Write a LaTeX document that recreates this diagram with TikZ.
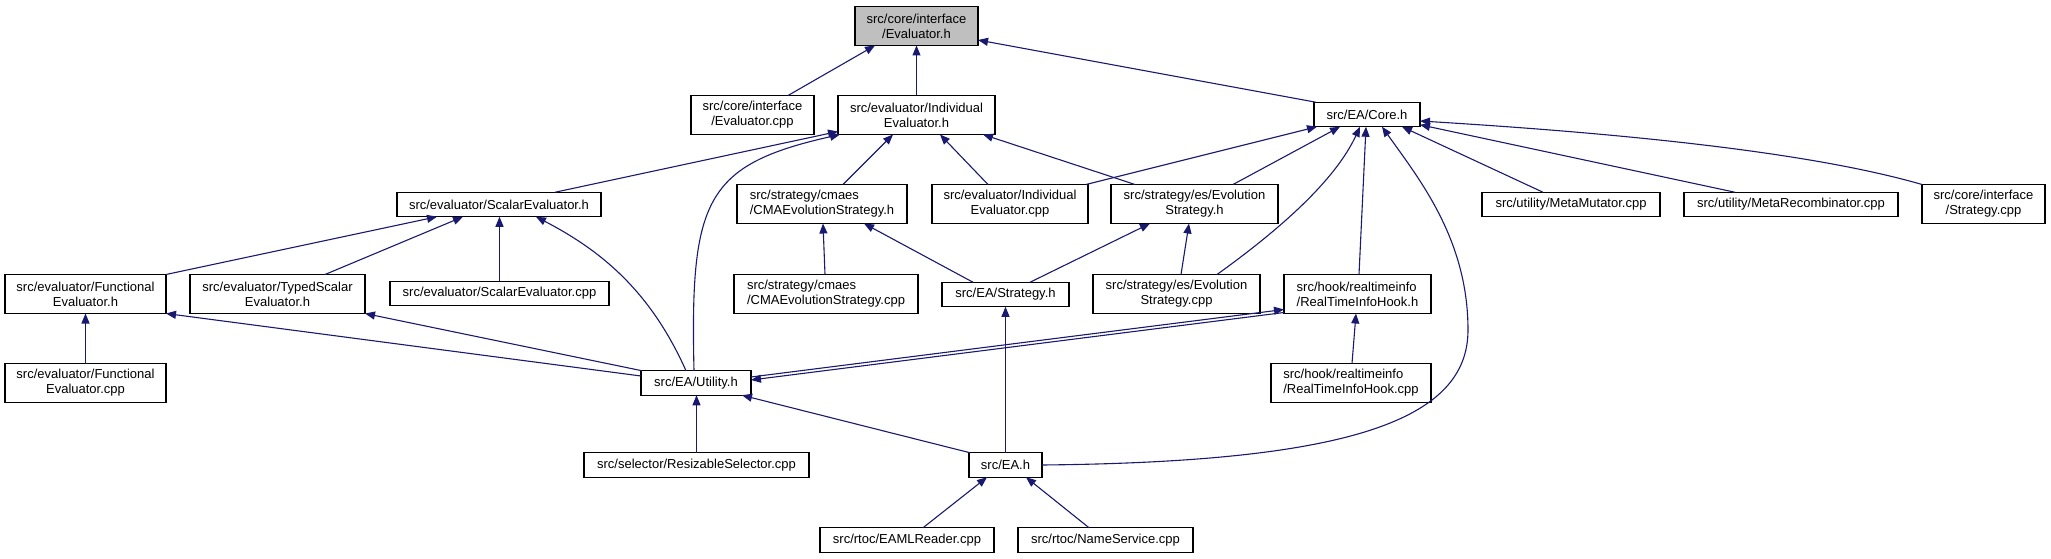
\documentclass[tikz,border=0pt]{standalone}
\usepackage{fontspec}
\setmainfont{Liberation Sans}
\usetikzlibrary{arrows.meta}
\definecolor{midnight}{HTML}{191970}
\definecolor{rootgray}{HTML}{BFBFBF}
\tikzset{
  box/.style={draw=black, line width=1.2pt, fill=white, inner sep=0pt, outer sep=0pt,
    align=center, font=\fontsize{13}{15}\selectfont},
  boxl/.style={box, align=left},
  two/.style={minimum height=39pt},
  one/.style={minimum height=24.5pt},
  edge/.style={draw=midnight, line width=1.1pt, -{Triangle[length=10pt,width=8pt]}},
}
\begin{document}
\begin{tikzpicture}[x=1pt,y=1pt]
\useasboundingbox (0,0) rectangle (2051,-559);
% nodes
\node[box,two,fill=rootgray,minimum width=123pt] (evalh) at (916.5,-26) {src/core/interface\\/Evaluator.h};
\node[box,two,minimum width=123pt] (evalcpp) at (752.5,-115) {src/core/interface\\/Evaluator.cpp};
\node[box,two,minimum width=157pt] (indevalh) at (916.5,-115) {src/evaluator/Individual\\Evaluator.h};
\node[box,one,minimum width=106pt] (coreh) at (1367,-114.5) {src/EA/Core.h};
\node[box,one,minimum width=204pt] (scalarh) at (499,-204.5) {src/evaluator/ScalarEvaluator.h};
\node[boxl,two,minimum width=170pt] (cmah) at (822,-204) {src/strategy/cmaes\\/CMAEvolutionStrategy.h};
\node[box,two,minimum width=156pt] (indevalcpp) at (1010,-204) {src/evaluator/Individual\\Evaluator.cpp};
\node[box,two,minimum width=167pt] (evolh) at (1194.5,-204) {src/strategy/es/Evolution\\Strategy.h};
\node[box,one,minimum width=178pt] (metamut) at (1571,-204.5) {src/utility/MetaMutator.cpp};
\node[box,one,minimum width=214pt] (metarec) at (1791,-204.5) {src/utility/MetaRecombinator.cpp};
\node[box,two,minimum width=123pt] (stratcpp) at (1983.5,-204) {src/core/interface\\/Strategy.cpp};
\node[box,two,minimum width=161pt] (funch) at (85.5,-294) {src/evaluator/Functional\\Evaluator.h};
\node[box,two,minimum width=175pt] (typedh) at (277.5,-294) {src/evaluator/TypedScalar\\Evaluator.h};
\node[box,one,minimum width=219pt] (scalarcpp) at (499.5,-293.5) {src/evaluator/ScalarEvaluator.cpp};
\node[boxl,two,minimum width=184pt] (cmacpp) at (826,-294) {src/strategy/cmaes\\/CMAEvolutionStrategy.cpp};
\node[box,one,minimum width=127pt] (strath) at (1005.5,-294.5) {src/EA/Strategy.h};
\node[box,two,minimum width=167pt] (evolcpp) at (1176.5,-294) {src/strategy/es/Evolution\\Strategy.cpp};
\node[boxl,two,minimum width=147pt] (rtihh) at (1357.5,-294) {src/hook/realtimeinfo\\/RealTimeInfoHook.h};
\node[box,two,minimum width=161pt] (funccpp) at (85.5,-383) {src/evaluator/Functional\\Evaluator.cpp};
\node[box,one,minimum width=110pt] (utilh) at (696,-383) {src/EA/Utility.h};
\node[boxl,two,minimum width=160pt] (rtihcpp) at (1351,-383) {src/hook/realtimeinfo\\/RealTimeInfoHook.cpp};
\node[box,one,minimum width=225pt] (resize) at (696.5,-465) {src/selector/ResizableSelector.cpp};
\node[box,one,minimum width=73pt] (eah) at (1005.5,-465) {src/EA.h};
\node[box,one,minimum width=174pt] (eaml) at (907,-540) {src/rtoc/EAMLReader.cpp};
\node[box,one,minimum width=175pt] (namesvc) at (1105.5,-540) {src/rtoc/NameService.cpp};
% edges (arrow at the included file)
\draw[edge] ([xshift=35.5pt]evalcpp.north) -- ([xshift=-41.5pt]evalh.south);
\draw[edge] (indevalh.north) -- (evalh.south);
\draw[edge] ([xshift=2pt]coreh.north west) -- ([yshift=-14pt]evalh.east);
\draw[edge] ([xshift=56pt]scalarh.north) -- ([yshift=3pt]indevalh.south west);
\draw[edge] ([xshift=-2pt]utilh.north) .. controls (690,-200) and (705,-165) .. ([xshift=2pt]indevalh.south west);
\draw[edge] ([xshift=21pt]cmah.north) -- ([xshift=-23.5pt]indevalh.south);
\draw[edge] ([xshift=-22pt]indevalcpp.north) -- ([xshift=23.5pt]indevalh.south);
\draw[edge] ([xshift=-59.5pt]evolh.north) -- ([xshift=-12pt]indevalh.south east);
\draw[edge] ([xshift=-2pt]indevalcpp.north east) -- ([xshift=3pt]coreh.south west);
\draw[edge] ([xshift=38.5pt]evolh.north) -- ([xshift=-27pt]coreh.south);
\draw[edge] ([xshift=40.5pt]evolcpp.north) .. controls (1300,-215) and (1340,-170) .. ([xshift=-7pt]coreh.south);
\draw[edge] ([xshift=1.5pt]rtihh.north) -- ([xshift=-1pt]coreh.south);
\draw[edge] (eah.east) .. controls (1350,-462) and (1468,-420) .. (1468,-330)
  .. controls (1468,-240) and (1420,-180) .. ([xshift=15pt]coreh.south);
\draw[edge] ([xshift=-28pt]metamut.north) -- ([xshift=35pt]coreh.south);
\draw[edge] ([xshift=-56pt]metarec.north) -- ([yshift=2pt]coreh.south east);
\draw[edge] (stratcpp.north west) .. controls (1820,-155) and (1650,-135) .. ([yshift=-6.5pt]coreh.east);
\draw[edge] (funch.north east) -- ([xshift=-62pt]scalarh.south);
\draw[edge] ([xshift=47.5pt]typedh.north) -- ([xshift=-36pt]scalarh.south);
\draw[edge] (scalarcpp.north) -- (scalarcpp.north |- scalarh.south);
\draw[edge] ([xshift=-10pt]utilh.north) .. controls (650,-290) and (600,-250) .. ([xshift=37pt]scalarh.south);
\draw[edge] ([xshift=-1pt]cmacpp.north) -- ([xshift=1pt]cmah.south);
\draw[edge] ([xshift=-32.5pt]strath.north) -- ([xshift=42pt]cmah.south);
\draw[edge] ([xshift=24.5pt]strath.north) -- ([xshift=-44.5pt]evolh.south);
\draw[edge] ([xshift=4.5pt]evolcpp.north) -- ([xshift=-5.5pt]evolh.south);
\draw[edge] (funccpp.north) -- (funch.south);
\draw[edge] ([yshift=7pt]utilh.west) -- (funch.south east);
\draw[edge] ([xshift=1pt]utilh.north west) -- (typedh.south east);
\draw[edge] ([yshift=1pt]rtihh.south west) -- ([yshift=3pt]utilh.east);
\draw[edge] ([yshift=6pt]utilh.east) -- ([yshift=4pt]rtihh.south west);
\draw[edge] ([xshift=1pt]rtihcpp.north) -- ([xshift=-1.5pt]rtihh.south);
\draw[edge] (eah.north) -- (strath.south);
\draw[edge] (resize.north) -- (resize.north |- utilh.south);
\draw[edge] ([xshift=1pt]eah.north west) -- ([xshift=-9pt]utilh.south east);
\draw[edge] ([xshift=16pt]eaml.north) -- ([xshift=-18.5pt]eah.south);
\draw[edge] ([xshift=-16.5pt]namesvc.north) -- ([xshift=20.5pt]eah.south);
\end{tikzpicture}
\end{document}
